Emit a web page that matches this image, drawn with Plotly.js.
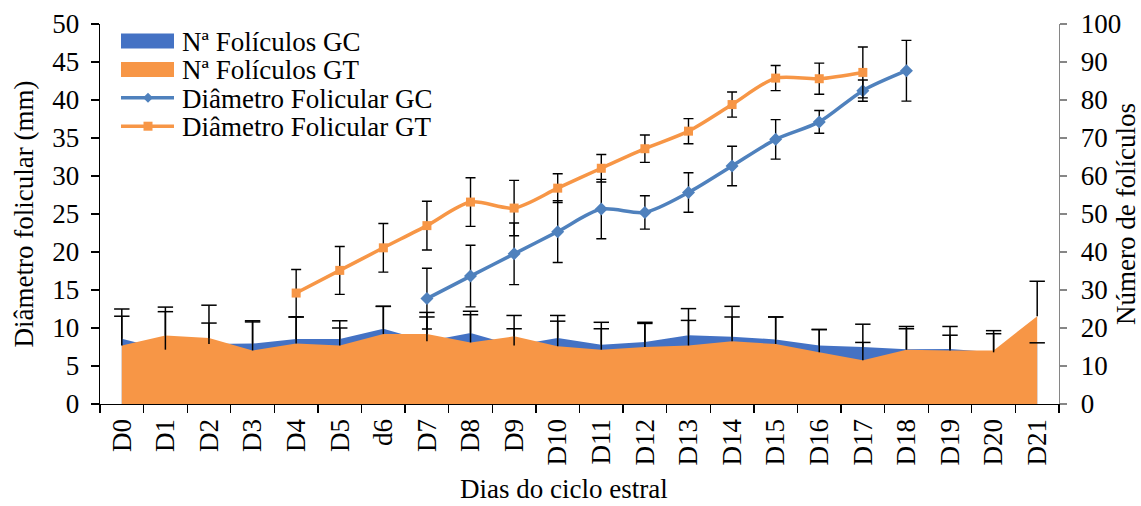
<!DOCTYPE html>
<html>
<head>
<meta charset="utf-8">
<script src="https://cdn.plot.ly/plotly-3.0.1.min.js"></script>
<style>
  html, body { margin: 0; padding: 0; background: #fff; }
  #chart { width: 1141px; height: 506px; }
</style>
</head>
<body>
<div id="chart"></div>
<script>
// Days of the oestrous cycle
const days = ['D0','D1','D2','D3','D4','D5','d6','D7','D8','D9','D10',
              'D11','D12','D13','D14','D15','D16','D17','D18','D19','D20','D21'];

// Number of follicles (right axis)
const nFolGC    = [17.2,14.3,15.8,15.9,17.1,17.1,19.8,16.5,18.7,15.4,17.4,15.6,16.3,18.1,17.7,17.0,15.4,15.0,14.4,14.5,13.6,16.1];
const nFolGCErr = [7.8,11.2,10.2,6.0,5.8,4.8,5.9,7.6,4.8,4.4,4.4,4.2,5.2,7.0,8.0,5.9,4.2,6.0,6.0,5.9,5.7,0];
const nFolGT    = [15.4,18.0,17.4,14.1,15.9,15.4,18.4,18.4,16.2,17.8,15.2,14.3,15.0,15.4,16.5,15.8,13.6,11.5,14.3,14.1,14.1,23.1];
const nFolGTErr = [7.7,6.3,3.9,7.5,7.0,4.6,7.3,4.5,8.2,5.5,8.1,7.2,6.2,6.6,6.4,7.1,6.0,4.7,5.5,4.0,4.4,9.2];

// Follicular diameter in mm (left axis)
const diamGC    = [null,null,null,null,null,null,null,13.87,16.83,19.76,22.68,25.65,25.21,27.83,31.32,34.82,37.12,41.23,43.85,null,null,null];
const diamGCErr = [null,null,null,null,null,null,null,4.0,4.05,4.05,4.07,3.9,2.2,2.6,2.6,2.6,1.5,1.4,4.0,null,null,null];
const diamGT    = [null,null,null,null,14.6,17.58,20.55,23.47,26.57,25.78,28.4,31.02,33.59,35.9,39.4,42.88,42.8,43.63,null,null,null,null];
const diamGTErr = [null,null,null,null,3.1,3.15,3.2,3.2,3.2,3.65,1.9,1.8,1.8,1.65,1.65,1.65,2.05,3.35,null,null,null,null];

const names = ['Nª Folículos GC', 'Nª Folículos GT', 'Diâmetro Folicular GC', 'Diâmetro Folicular GT'];
const xTitle = 'Dias do ciclo estral';

const C_AREA_GC = '#4472C4';
const C_AREA_GT = '#F79646';
const C_LINE_GC = '#4F81BD';
const C_LINE_GT = '#F79646';

const FS = 27;
const W = 1141, H = 506;
const M = { l: 100, r: 82, t: 24, b: 102 };
const PW = W - M.l - M.r, PH = H - M.t - M.b;

// Upward-only error bars: cap drawn as a marker at value + error,
// stem drawn as the minus side of the error bar back to the value.
function upperBars(vals, errs) {
  const tops = vals.map((v, i) => v + errs[i]);
  return {
    type: 'scatter', x: days, y: tops, yaxis: 'y', mode: 'markers',
    showlegend: false, hoverinfo: 'skip',
    marker: { symbol: 'line-ew', size: 11, color: '#000', line: { width: 1.5, color: '#000' } },
    error_y: { type: 'data', symmetric: false, array: errs.map(() => 0), arrayminus: errs,
               color: '#000', thickness: 1.5, width: 0 }
  };
}

const data = [
  // areas
  { type: 'scatter', x: days, y: nFolGC, yaxis: 'y', mode: 'none', fill: 'tozeroy',
    fillcolor: C_AREA_GC, name: names[0] },
  { type: 'scatter', x: days, y: nFolGT, yaxis: 'y', mode: 'none', fill: 'tozeroy',
    fillcolor: C_AREA_GT, name: names[1] },

  upperBars(nFolGC, nFolGCErr),
  upperBars(nFolGT, nFolGTErr),

  // diameter lines
  { type: 'scatter', x: days, y: diamGC, yaxis: 'y2', mode: 'lines+markers', name: names[2],
    line: { color: C_LINE_GC, width: 3.5, shape: 'spline', smoothing: 0.8 },
    marker: { symbol: 'diamond', size: 10, color: C_LINE_GC },
    error_y: { type: 'data', array: diamGCErr, color: '#000', thickness: 1.4, width: 5 } },
  { type: 'scatter', x: days, y: diamGT, yaxis: 'y2', mode: 'lines+markers', name: names[3],
    line: { color: C_LINE_GT, width: 3.5, shape: 'spline', smoothing: 0.8 },
    marker: { symbol: 'square', size: 9, color: C_LINE_GT },
    error_y: { type: 'data', array: diamGTErr, color: '#000', thickness: 1.4, width: 5 } }
];

// Legend block in the upper-left corner of the plot (pixel layout -> paper coords)
const px = x => (x - M.l) / PW;
const py = y => (H - M.b - y) / PH;
const legendItems = [
  { name: names[0], kind: 'area', color: C_AREA_GC },
  { name: names[1], kind: 'area', color: C_AREA_GT },
  { name: names[2], kind: 'line', color: C_LINE_GC, marker: 'diamond' },
  { name: names[3], kind: 'line', color: C_LINE_GT, marker: 'square' }
];
const shapes = [], annotations = [];
const keyX0 = 121, keyX1 = 174, keyMid = 148, textX = 180, row0 = 41, rowGap = 28.4;
legendItems.forEach((it, i) => {
  const cy = row0 + i * rowGap;
  if (it.kind === 'area') {
    shapes.push({ type: 'rect', xref: 'paper', yref: 'paper',
      x0: px(keyX0), x1: px(keyX1), y0: py(cy + 7.5), y1: py(cy - 7.5),
      fillcolor: it.color, line: { width: 0 } });
  } else {
    shapes.push({ type: 'line', xref: 'paper', yref: 'paper',
      x0: px(keyX0), x1: px(keyX1), y0: py(cy), y1: py(cy),
      line: { color: it.color, width: 3.5 } });
    let path;
    if (it.marker === 'diamond') {
      const r = 5;
      path = `M ${px(keyMid)} ${py(cy - r)} L ${px(keyMid + r)} ${py(cy)} L ${px(keyMid)} ${py(cy + r)} L ${px(keyMid - r)} ${py(cy)} Z`;
    } else {
      const r = 4.5;
      path = `M ${px(keyMid - r)} ${py(cy - r)} L ${px(keyMid + r)} ${py(cy - r)} L ${px(keyMid + r)} ${py(cy + r)} L ${px(keyMid - r)} ${py(cy + r)} Z`;
    }
    shapes.push({ type: 'path', xref: 'paper', yref: 'paper', path,
      fillcolor: it.color, line: { width: 0 } });
  }
  annotations.push({ xref: 'paper', yref: 'paper', x: px(textX), y: py(cy + 1),
    xanchor: 'left', yanchor: 'middle', showarrow: false, text: it.name,
    font: { size: FS } });
});

// x-axis title, centred under the whole chart area, resting on the bottom edge
annotations.push({ xref: 'paper', yref: 'paper', x: px(564), y: py(H - 1),
  xanchor: 'center', yanchor: 'bottom', showarrow: false, text: xTitle,
  font: { size: FS }, borderpad: 0 });

const layout = {
  width: W, height: H,
  margin: { l: M.l, r: M.r, t: M.t, b: M.b, pad: 0 },
  paper_bgcolor: '#fff', plot_bgcolor: '#fff',
  font: { family: 'Liberation Serif, Times New Roman, serif', size: FS, color: '#000' },
  showlegend: false,
  shapes, annotations,
  xaxis: {
    type: 'category', range: [-0.5, 21.5],
    showline: true, linecolor: '#000', linewidth: 1.3, mirror: false,
    ticks: 'outside', ticklen: 8, tickwidth: 1.3, tickcolor: '#000', tickson: 'boundaries',
    tickangle: -90, showgrid: false, zeroline: false,
    tickfont: { size: FS }, ticklabelstandoff: 3
  },
  yaxis: {
    side: 'right', range: [0, 100], dtick: 10,
    showline: true, linecolor: '#868686', linewidth: 1.3,
    ticks: 'outside', ticklen: 7, tickwidth: 1.3, tickcolor: '#868686',
    showgrid: false, zeroline: false, ticklabelstandoff: 8,
    tickfont: { size: FS },
    title: { text: 'Número de folículos', standoff: 2, font: { size: FS } }
  },
  yaxis2: {
    overlaying: 'y', side: 'left', range: [0, 50], dtick: 5,
    showline: true, linecolor: '#000', linewidth: 1.3,
    ticks: 'outside', ticklen: 8, tickwidth: 1.3, tickcolor: '#000',
    showgrid: false, zeroline: false, ticklabelstandoff: 6,
    tickfont: { size: FS },
    title: { text: 'Diâmetro folicular (mm)', standoff: 10, font: { size: FS } }
  }
};

Plotly.newPlot('chart', data, layout, { displayModeBar: false, staticPlot: true });
</script>
</body>
</html>
